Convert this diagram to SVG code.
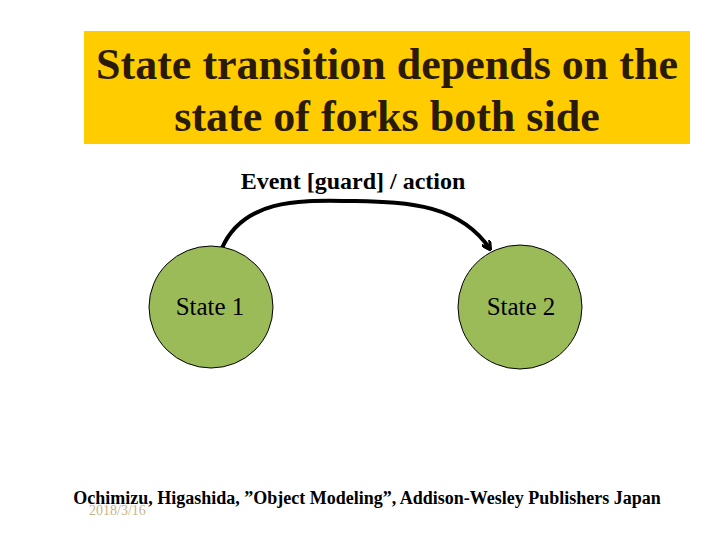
<svg xmlns="http://www.w3.org/2000/svg" width="720" height="540" viewBox="0 0 720 540">
<style>
.serif{font-family:"Liberation Serif","Times New Roman",serif}
.title{font-size:44px;font-weight:bold;fill:#2a1a08}
.state{fill:#9bbb59;stroke:#000;stroke-width:1}
.lbl{font-size:25px;fill:#000}
</style>
<defs>
<marker id="ah" markerWidth="10" markerHeight="10" refX="8" refY="5" orient="auto" markerUnits="userSpaceOnUse">
<path d="M0,0 L9,5 L0,10" fill="none" stroke="#000" stroke-width="3"/>
</marker>
</defs>
<rect width="720" height="540" fill="#fff"/>
<g id="title">
<rect x="84" y="31" width="606" height="113" fill="#ffcc00"/>
<text class="serif title" x="387" y="79" text-anchor="middle">State transition depends on the</text>
<text class="serif title" x="387" y="131" text-anchor="middle">state of forks both side</text>
</g>
<g id="connectors">
<path d="M222,248 C245,195 310,201 355,201 C410,202 460,205 490,249" fill="none" stroke="#000" stroke-width="4" marker-end="url(#ah)"/>
<text class="serif" x="353" y="189" text-anchor="middle" font-size="24" font-weight="bold">Event [guard] / action</text>
</g>
<g id="state1">
<ellipse class="state" cx="211" cy="307" rx="62" ry="61"/>
<text class="serif lbl" x="210" y="315" text-anchor="middle">State 1</text>
</g>
<g id="state2">
<ellipse class="state" cx="520" cy="307" rx="62" ry="62"/>
<text class="serif lbl" x="521" y="315" text-anchor="middle">State 2</text>
</g>
<g id="footer">
<text class="serif" x="89" y="515" font-size="14" fill="#c8b48a">2018/3/16</text>
<text class="serif" x="367" y="504" text-anchor="middle" font-size="18" font-weight="bold">Ochimizu, Higashida, ”Object Modeling”, Addison-Wesley Publishers Japan</text>
</g>
</svg>
